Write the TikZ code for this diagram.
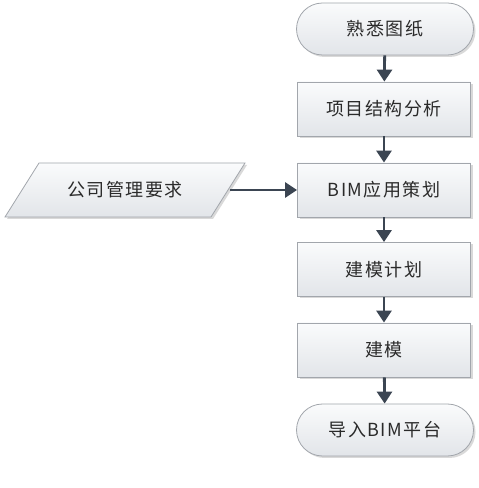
\documentclass[tikz,border=0pt]{standalone}
\usepackage{fontspec}
\setmainfont[LetterSpace=8]{Noto Sans CJK SC}
\usetikzlibrary{arrows.meta,shadows}
\definecolor{boxline}{HTML}{A2A6AC}
\definecolor{boxtop}{HTML}{FAFBFC}
\definecolor{boxbot}{HTML}{E2E5E9}
\definecolor{arrowc}{HTML}{3B4552}
\definecolor{txt}{HTML}{2A2A2A}
\tikzset{
  x=1pt,y=1pt,
  fillstyle/.style={draw=boxline, line width=0.8pt, top color=boxtop, bottom color=boxbot,
    drop shadow={shadow xshift=2pt, shadow yshift=-2pt, fill=black, opacity=0.15}},
  base/.style={fillstyle, text=txt, font=\fontsize{18}{20}\selectfont, inner sep=0pt},
  procbox/.style={base, rectangle, minimum width=173pt, minimum height=54pt},
  termbox/.style={base, rectangle, rounded corners=26pt, minimum width=177pt, minimum height=52pt},
  label/.style={text=txt, font=\fontsize{18}{20}\selectfont, inner sep=0pt},
  flow/.style={arrowc, line width=2.8pt, -{Triangle[length=12pt,width=15pt]}},
}
\begin{document}
\begin{tikzpicture}
\useasboundingbox (0,0) rectangle (479,488);
\node[termbox] (a) at (385,459) {熟悉图纸};
\node[procbox] (b) at (384,379) {项目结构分析};
\node[procbox] (c) at (384,298) {BIM应用策划};
\node[procbox] (d) at (384,218.5) {建模计划};
\node[procbox] (e) at (384,138) {建模};
\node[termbox] (f) at (385,58) {导入BIM平台};
\path[fillstyle] (5,271) -- (39,325) -- (245,325) -- (211,271) -- cycle;
\node[label, minimum width=209pt, minimum height=54pt] (p) at (125,298) {公司管理要求};
\draw[flow] (a) -- (b);
\draw[flow] (b) -- (c);
\draw[flow] (c) -- (d);
\draw[flow] (d) -- (e);
\draw[flow] (e) -- (f);
\draw[flow] (p) -- (c);
\end{tikzpicture}
\end{document}
